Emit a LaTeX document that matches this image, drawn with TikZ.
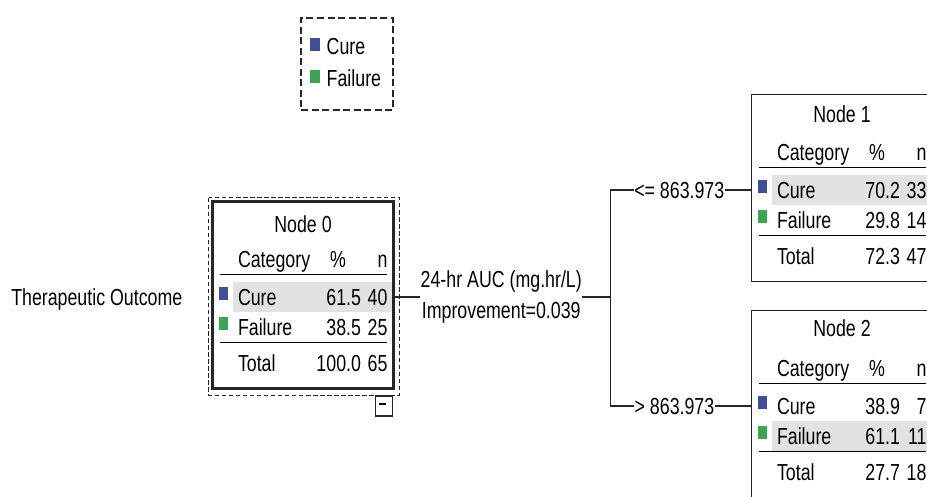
\documentclass[tikz,border=0pt]{standalone}
\usepackage{fontspec}
\setmainfont{Liberation Sans}[FakeStretch=0.767]
\usetikzlibrary{matrix, calc}
\definecolor{cureblue}{RGB}{62,80,150}
\definecolor{failgreen}{RGB}{58,165,82}
\definecolor{rowgray}{RGB}{226,226,226}
\newlength{\pix}
\setlength{\pix}{0.02cm}
\tikzset{
	txt/.style={inner sep=0pt, text height=9.5pt, text depth=0pt},
	tcell/.style={minimum height=30\pix, inner sep=0pt, text height=9.5pt, text depth=0pt},
	nodetable/.style={
		matrix of nodes,
		ampersand replacement=\&,
		nodes in empty cells,
		inner sep=0pt, row sep=0pt, column sep=0pt,
		nodes={tcell},
		column 1/.style={nodes={minimum width=20\pix}},
		column 2/.style={nodes={text width=72\pix, inner xsep=5\pix, align=left}},
		column 3/.style={nodes={text width=46\pix, align=right}},
		column 4/.style={nodes={text width=21\pix, inner xsep=5.5\pix, align=right}}},
	hirow/.style={fill=rowgray},
	hdrcell/.style={align=center},
	treebox/.style={minimum width=180\pix, minimum height=186\pix, inner sep=0pt},
	boxline/.style={draw=black!85, line width=0.7pt},
	swatch/.style={minimum width=9\pix, minimum height=13\pix, inner sep=0pt},
	legendbox/.style={draw=black!85, line width=0.7pt, dash pattern=on 4pt off 2pt, minimum width=92\pix, minimum height=92\pix},
	selframe/.style={draw=black!85, line width=0.7pt, dash pattern=on 2.5pt off 1.5pt},
	splitlbl/.style={inner sep=0pt, align=center, font=\fontsize{13.2}{18.1}\selectfont},
	link/.style={draw=black!85, line width=0.7pt}
}
\begin{document}
\begin{tikzpicture}[x=\pix, y=-\pix, font=\fontsize{13.2}{15}\selectfont]
	\useasboundingbox (0,0) rectangle (927,497);
	\clip (0,0) rectangle (927,497);
	%
	% legend
	\node (legend) [legendbox] at (347,64) {};
	\node (leg-cure) [txt, anchor=west] at ($(legend.north west)+(26,29)$) {Cure};
	\node (leg-fail) [txt, anchor=west] at ($(legend.north west)+(26,61)$) {Failure};
	\node [swatch, fill=cureblue, minimum width=10\pix] at ($(leg-cure.west)+(-11,-2)$) {};
	\node [swatch, fill=failgreen, minimum width=10\pix] at ($(leg-fail.west)+(-11,-2)$) {};
	%
	% tree nodes
	\node (n0) [treebox] at (303,295) {};
	\node (n1) [treebox] at (842,188) {};
	\node (n2) [treebox, minimum height=210\pix] at (842,416) {};
	%
	\matrix (n0t) [nodetable, anchor=north west] at ($(n0.north west)+(0,42)$) {
		\& Category \& |[hdrcell]|\% \& n \\[8\pix]
		\& |[hirow]|Cure \& |[hirow]|61.5 \& |[hirow]|40 \\
		\& Failure \& 38.5 \& 25 \\[6\pix]
		\& Total \& 100.0 \& 65 \\
	};
	\matrix (n1t) [nodetable, anchor=north west] at ($(n1.north west)+(0,42)$) {
		\& Category \& |[hdrcell]|\% \& n \\[8\pix]
		\& |[hirow]|Cure \& |[hirow]|70.2 \& |[hirow]|33 \\
		\& Failure \& 29.8 \& 14 \\[6\pix]
		\& Total \& 72.3 \& 47 \\
	};
	\matrix (n2t) [nodetable, anchor=north west] at ($(n2.north west)+(0,42)$) {
		\& Category \& |[hdrcell]|\% \& n \\[8\pix]
		\& Cure \& 38.9 \& 7 \\
		\& |[hirow]|Failure \& |[hirow]|61.1 \& |[hirow]|11 \\[6\pix]
		\& Total \& 27.7 \& 18 \\
	};
	%
	\node [txt] at ($(n0.north)+(0,23)$) {Node 0};
	\node [txt] at ($(n1.north)+(0,20)$) {Node 1};
	\node [txt] at ($(n2.north)+(0,18)$) {Node 2};
	%
	\foreach \t in {n0t,n1t,n2t}{
		\draw[black, line width=0.8pt] ($(\t-1-1.south west)+(7,0)$) -- ($(\t-1-4.south east)+(-6,0)$);
		\draw[black, line width=0.8pt] ($(\t-3-1.south west)+(7,0)$) -- ($(\t-3-4.south east)+(-6,0)$);
		\node [swatch, fill=cureblue] at ($(\t-2-1.center)+(0,-4)$) {};
		\node [swatch, fill=failgreen] at ($(\t-3-1.center)+(0,-4)$) {};
	}
	%
	\draw[boxline] (n1.north west) rectangle (n1.south east);
	\draw[boxline] (n2.north west) rectangle (n2.south east);
	\draw[boxline, line width=1.7pt] (n0.north west) rectangle (n0.south east);
	\draw[selframe] ($(n0.north west)+(-4,-4)$) rectangle ($(n0.south east)+(6,7)$);
	\node (collapse) [boxline, minimum width=17\pix, minimum height=20\pix, inner sep=0pt, anchor=north east] at ($(n0.south east)+(0,7)$) {};
	\draw[line width=1.1pt] ($(collapse.center)+(-5.5,-2)$) -- ($(collapse.center)+(1.5,-2)$);
	%
	% split and branches
	\node (target) [txt, anchor=east] at ($(n0.west |- n0t-2-1.center)+(-30,0)$) {Therapeutic Outcome};
	\node (split) [splitlbl, anchor=west] at ($(n0.east |- n0t-2-1.center)+(27,0)$) {24-hr AUC (mg.hr/L)\\Improvement=0.039};
	\coordinate (fork) at ($(split.east)+(28,0)$);
	\node (le) [txt, anchor=east] at ($(n1.west |- n1t-2-1.center)+(-27,0)$) {<= 863.973};
	\node (gt) [txt, anchor=east] at ($(n2.west |- n2t-2-1.center)+(-37,0)$) {> 863.973};
	%
	\draw[link] (n0.east |- n0t-2-1.center) -- (split.west);
	\draw[link] (split.east) -- (fork);
	\draw[link] (le.west) -| (fork) |- (gt.west);
	\draw[link] (le.east) -- (n1.west |- le.east);
	\draw[link] (gt.east) -- (n2.west |- gt.east);
\end{tikzpicture}
\end{document}
